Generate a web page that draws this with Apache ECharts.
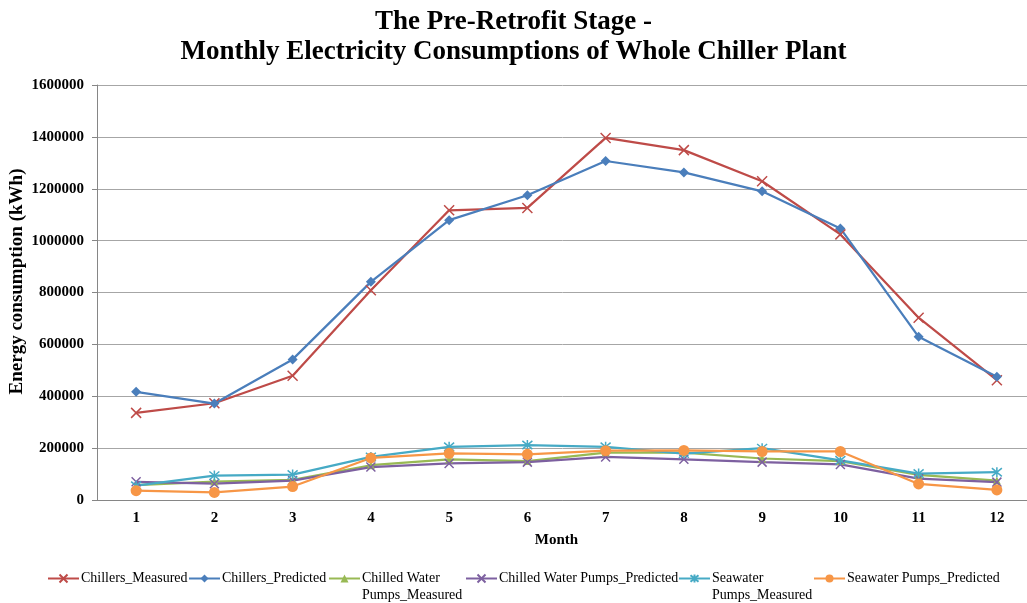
<!DOCTYPE html>
<html>
<head>
<meta charset="utf-8">
<script src="https://cdn.jsdelivr.net/npm/echarts@6/dist/echarts.min.js"></script>
<style>
  html, body { margin: 0; padding: 0; background: #fff; }
  #chart { width: 1027px; height: 603px; }
</style>
</head>
<body>
<div id="chart"></div>
<script>
// Monthly electricity use (kWh) of the chiller plant, pre-retrofit
const months = ['1', '2', '3', '4', '5', '6', '7', '8', '9', '10', '11', '12'];
const chillersMeasured   = [336000, 373000, 479000, 809000, 1117000, 1126000, 1396000, 1349000, 1229000, 1024000, 703000, 462000];
const chillersPredicted  = [417000, 372000, 542000, 841000, 1079000, 1175000, 1307000, 1263000, 1190000, 1047000, 629000, 475000];
const chwPumpsMeasured   = [57000, 71000, 78000, 134000, 157000, 150000, 183000, 183000, 160000, 150000, 97000, 75000];
const chwPumpsPredicted  = [70000, 63000, 75000, 127000, 141000, 146000, 166000, 157000, 146000, 137000, 82000, 69000];
const swPumpsMeasured    = [55000, 94000, 98000, 166000, 205000, 212000, 205000, 179000, 200000, 153000, 102000, 107000];
const swPumpsPredicted   = [36000, 29000, 52000, 162000, 180000, 176000, 190000, 191000, 187000, 187000, 62000, 39000];
const yTicks = [0, 200000, 400000, 600000, 800000, 1000000, 1200000, 1400000, 1600000];

const SERIF = '"Liberation Serif", "DejaVu Serif", serif';
const CROSS = 'path://M0,0 L10,10 M10,0 L0,10';
const STAR = 'path://M0,0 L10,10 M10,0 L0,10 M5,-1 L5,11';

const seriesDefs = [
  { name: 'Chillers_Measured', data: chillersMeasured, color: '#BE4B48', symbol: CROSS, size: 10, stroke: true,
    legendText: 'Chillers_Measured', legendLeft: 47 },
  { name: 'Chillers_Predicted', data: chillersPredicted, color: '#4A7EBB', symbol: 'diamond', size: 10, stroke: false,
    legendText: 'Chillers_Predicted', legendLeft: 188 },
  { name: 'Chilled Water Pumps_Measured', data: chwPumpsMeasured, color: '#98B954', symbol: 'triangle', size: 8, stroke: false,
    legendText: '\nChilled Water\nPumps_Measured', legendLeft: 328 },
  { name: 'Chilled Water Pumps_Predicted', data: chwPumpsPredicted, color: '#7D60A0', symbol: CROSS, size: 9, stroke: true,
    legendText: 'Chilled Water Pumps_Predicted', legendLeft: 465 },
  { name: 'Seawater Pumps_Measured', data: swPumpsMeasured, color: '#46AAC5', symbol: STAR, size: 10, stroke: true,
    legendText: '\nSeawater\nPumps_Measured', legendLeft: 678 },
  { name: 'Seawater Pumps_Predicted', data: swPumpsPredicted, color: '#F79646', symbol: 'circle', size: 11, stroke: false,
    legendText: 'Seawater Pumps_Predicted', legendLeft: 813 }
];

const series = seriesDefs.map(d => ({
  name: d.name,
  type: 'line',
  data: d.data,
  symbol: d.symbol,
  symbolSize: d.size,
  showSymbol: true,
  animation: false,
  lineStyle: { color: d.color, width: 2.25 },
  itemStyle: d.stroke
    ? { color: d.color, borderColor: d.color, borderWidth: 1.5 }
    : { color: d.color, borderColor: d.color, borderWidth: 0 }
}));

// one legend per entry so each sits at its own place along the bottom row
const legends = seriesDefs.map(d => {
  const multi = d.legendText.indexOf('\n') === 0;
  return {
    data: [d.name],
    left: d.legendLeft,
    top: multi ? 553 : 570,
    orient: 'horizontal',
    itemWidth: 31,
    itemHeight: 10,
    itemGap: 2,
    padding: 0,
    formatter: () => d.legendText,
    textStyle: { fontFamily: SERIF, fontSize: 14, color: '#000', lineHeight: 17, padding: [0, 0, 0, -3] },
    selectedMode: false
  };
});

const chart = echarts.init(document.getElementById('chart'), null, { renderer: 'canvas' });
chart.setOption({
  backgroundColor: '#ffffff',
  animation: false,
  title: {
    text: 'The Pre-Retrofit Stage -\nMonthly Electricity Consumptions of Whole Chiller Plant',
    left: 'center',
    top: 2,
    textStyle: { fontFamily: SERIF, fontSize: 27, fontWeight: 'bold', color: '#000', lineHeight: 30 }
  },
  legend: legends,
  grid: { left: 97, top: 85, width: 939, height: 415, containLabel: false, outerBoundsMode: 'none' },
  xAxis: {
    type: 'category',
    data: months,
    boundaryGap: true,
    name: 'Month',
    nameLocation: 'middle',
    nameGap: 33,
    nameMoveOverlap: false,
    nameTextStyle: { fontFamily: SERIF, fontSize: 15, fontWeight: 'bold', color: '#000', padding: [0, 20, 0, 0] },
    axisLine: { show: true, lineStyle: { color: '#868686', width: 1 } },
    axisTick: { show: false },
    axisLabel: { fontFamily: SERIF, fontSize: 15, fontWeight: 'bold', color: '#000', margin: 11 },
    splitLine: { show: false }
  },
  yAxis: {
    type: 'value',
    min: yTicks[0],
    max: yTicks[yTicks.length - 1],
    interval: yTicks[1] - yTicks[0],
    name: 'Energy consumption (kWh)',
    nameLocation: 'middle',
    nameRotate: 90,
    nameGap: 70,
    nameMoveOverlap: false,
    nameTextStyle: { fontFamily: SERIF, fontSize: 19, fontWeight: 'bold', color: '#000', padding: [0, 0, 0, 22] },
    axisLine: { show: true, lineStyle: { color: '#868686', width: 1 } },
    axisTick: { show: true, length: 5, lineStyle: { color: '#868686' } },
    axisLabel: { fontFamily: SERIF, fontSize: 15, fontWeight: 'bold', color: '#000', margin: 13,
                 formatter: v => String(v) },
    splitLine: { show: true, lineStyle: { color: '#a6a6a6', width: 1 } }
  },
  series: series
});
</script>
</body>
</html>
